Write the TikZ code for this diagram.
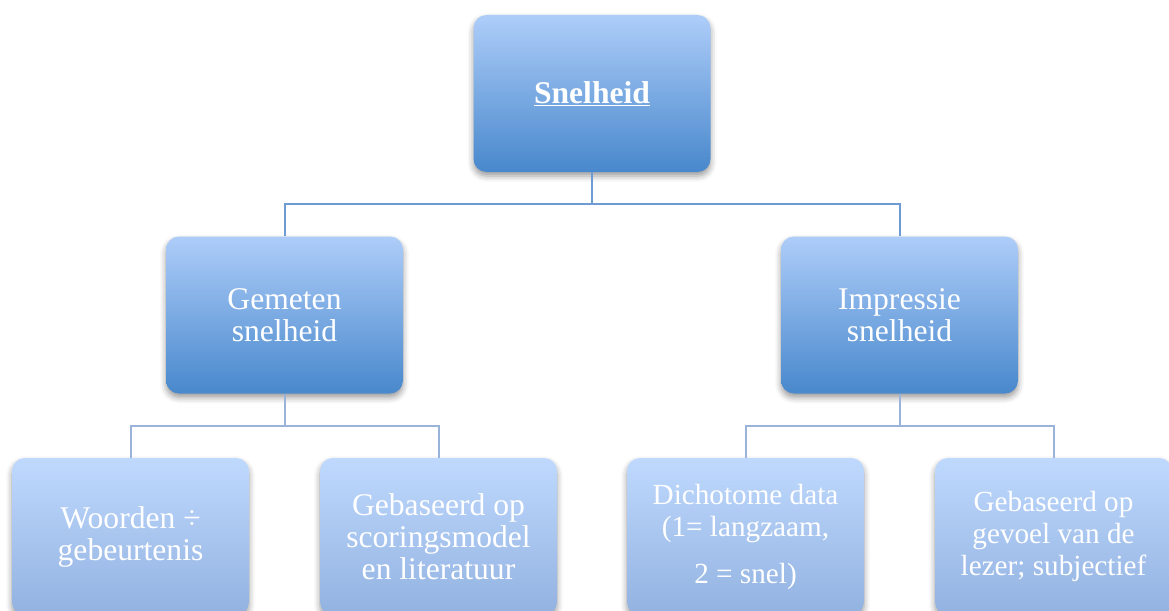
\documentclass[tikz,border=0pt]{standalone}
\usepackage{fontspec}
\setmainfont{Liberation Serif}
\usetikzlibrary{shadows.blur}
\definecolor{topA}{RGB}{174,205,249}
\definecolor{botA}{RGB}{72,136,204}
\definecolor{topB}{RGB}{191,217,254}
\definecolor{botB}{RGB}{146,178,224}
\definecolor{lineA}{RGB}{110,156,210}
\definecolor{lineB}{RGB}{154,180,217}
\tikzset{
  boxbase/.style={rectangle, rounded corners=13pt, minimum width=237pt, minimum height=157pt,
    inner sep=0pt, align=center, text=white,
    font=\fontsize{31.6}{32}\selectfont,
    blur shadow={shadow xshift=0pt, shadow yshift=-4pt, shadow blur radius=6pt, shadow opacity=40}},
  boxA/.style={boxbase, top color=topA, bottom color=botA},
  boxB/.style={boxbase, top color=topB, bottom color=botB},
  smallfont/.style={font=\fontsize{29.2}{32}\selectfont},
  connA/.style={draw=lineA, line width=2pt},
  connB/.style={draw=lineB, line width=2pt}
}
\begin{document}
\begin{tikzpicture}[x=1pt,y=-1pt]
\useasboundingbox (0,0) rectangle (1169,610);
\node[boxA] (root) at (592,93.5) {\raisebox{-3pt}{\textbf{\underline{Snelheid}}}};
\node[boxA] (gem) at (284.5,315) {Gemeten\\snelheid};
\node[boxA] (imp) at (899.5,315) {Impressie\\snelheid};
\node[boxB] (woo) at (130.5,536.5) {Woorden ÷\\gebeurtenis};
\node[boxB] (sco) at (438.5,536.5) {Gebaseerd op\\scoringsmodel\\en literatuur};
\node[boxB, smallfont] (dic) at (745.5,536.5) {Dichotome data\\(1= langzaam,\\[15pt]2 = snel)};
\node[boxB, smallfont] (gev) at (1053.5,536.5) {Gebaseerd op\\gevoel van de\\lezer; subjectief};
\coordinate (j1) at (592,204);
\coordinate (j2) at (284.5,426);
\coordinate (j3) at (899.5,426);
\draw[connA] (root.south) -- (j1);
\draw[connA] (j1) -| (gem.north);
\draw[connA] (j1) -| (imp.north);
\draw[connB] (gem.south) -- (j2);
\draw[connB] (j2) -| (woo.north);
\draw[connB] (j2) -| (sco.north);
\draw[connB] (imp.south) -- (j3);
\draw[connB] (j3) -| (dic.north);
\draw[connB] (j3) -| (gev.north);
\end{tikzpicture}
\end{document}
